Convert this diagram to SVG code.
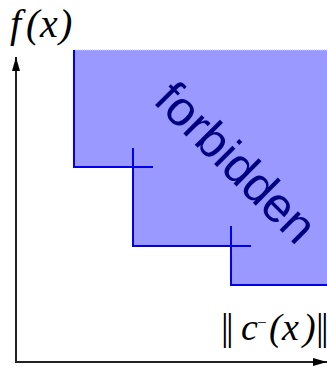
<svg xmlns="http://www.w3.org/2000/svg" width="327" height="367" viewBox="0 0 327 367">
<style>
.step{fill:none;stroke:#0000ee;stroke-width:2}
.axis{fill:none;stroke:#222;stroke-width:2}
.math{font-family:"Liberation Serif",serif;font-style:italic;fill:#000}
.bar{font-style:normal;letter-spacing:-2.6px}
</style>
<defs>
<marker id="arr" viewBox="0 0 14 8" refX="14" refY="4" markerWidth="14" markerHeight="8" markerUnits="userSpaceOnUse" orient="auto">
<path d="M0,0 L14,4 L0,8 Z" fill="#000"/>
</marker>
</defs>
<g id="region">
<polygon points="74,50 327,50 327,285 231,285 231,246 133,246 133,167 74,167" fill="#9999ff"/>
<line x1="74" y1="50" x2="327" y2="50" stroke="#ccccff" stroke-width="1" stroke-dasharray="1,1"/>
<polyline class="step" points="74,50 74,167 153,167"/>
<polyline class="step" points="133,148 133,246 251,246"/>
<polyline class="step" points="231,226 231,285 327,285"/>
<text transform="translate(152,102) rotate(45)" font-family="Liberation Sans,Arial,sans-serif" font-size="49" fill="#000080">forbidden</text>
</g>
<g id="axes">
<line class="axis" x1="16" y1="363" x2="16" y2="57" marker-end="url(#arr)"/>
<line class="axis" x1="16" y1="362" x2="327" y2="362" marker-end="url(#arr)"/>
</g>
<g id="labels">
<text class="math" y="37" font-size="40"><tspan x="10">f</tspan><tspan x="26">(</tspan><tspan x="40">x</tspan><tspan x="59">)</tspan></text>
<text class="math" y="340" font-size="38"><tspan class="bar" x="221">||</tspan><tspan x="241">c</tspan><tspan x="257" y="328" font-size="17" font-style="normal">−</tspan><tspan x="269" y="340">(</tspan><tspan x="282">x</tspan><tspan x="303">)</tspan></text>
<text class="math bar" x="316" y="340" font-size="38">||</text>
</g>
</svg>
